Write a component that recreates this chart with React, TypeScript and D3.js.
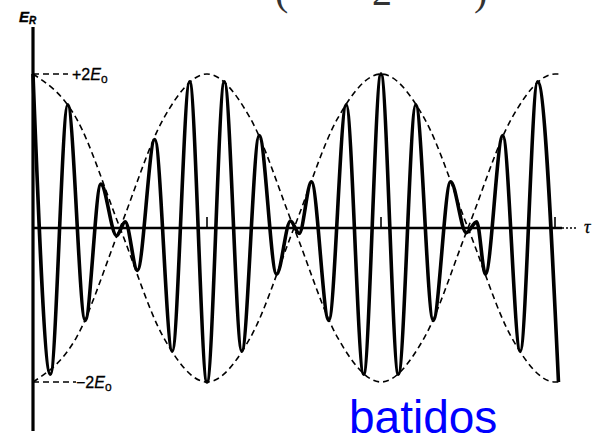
import React from 'react';
import * as d3 from 'd3';

// extremes of the resultant wave E_R (tau in beat half-periods, value in E0)
const waveTau = [
  0.0, 0.1, 0.2, 0.3, 0.39, 0.48, 0.53, 0.6, 0.7, 0.8, 0.9,
  1.0, 1.1, 1.2, 1.3, 1.4, 1.48, 1.53, 1.6, 1.7, 1.8, 1.9,
  2.0, 2.1, 2.2, 2.3, 2.4, 2.49, 2.55, 2.6, 2.7, 2.8, 2.9, 3.02,
];
const waveValue = [
  2.0, -1.9, 1.6, -1.2, 0.57, -0.1, 0.08, -0.55, 1.15, -1.6, 1.9,
  -2.0, 1.9, -1.6, 1.2, -0.6, 0.09, -0.07, 0.6, -1.2, 1.6, -1.9,
  2.0, -1.9, 1.6, -1.2, 0.6, -0.06, 0.08, -0.6, 1.2, -1.6, 1.9, -2.0,
];

// dashed envelope +2E0 cos(...), read at quarter steps
const envTau = [0, 0.25, 0.5, 0.75, 1, 1.25, 1.5, 1.75, 2, 2.25, 2.5, 2.75, 3, 3.02];
const envValue = [2, 1.42, 0, -1.42, -2, -1.42, 0, 1.42, 2, 1.42, 0, -1.42, -2, -2];

const tickTau = [1, 2, 3];

const W = 594, H = 437;

export default function App() {
  const x = d3.scaleLinear().domain([0, 1]).range([33, 207]);
  const y = d3.scaleLinear().domain([-2, 2]).range([382, 74]);

  const line = d3.line<[number, number]>()
    .x(d => x(d[0]))
    .y(d => y(d[1]))
    .curve(d3.curveMonotoneX);

  const wave = waveTau.map((t, i) => [t, waveValue[i]] as [number, number]);
  const envUp = envTau.map((t, i) => [t, envValue[i]] as [number, number]);
  const envDown = envTau.map((t, i) => [t, -envValue[i]] as [number, number]);

  const y0 = y(0);

  return (
    <div style={{ position: 'fixed', left: 0, top: 0 }}>
      <svg width={W} height={H} style={{ display: 'block', background: '#fff' }}>
        {/* formula cut off by the top edge, as in the source figure */}
        <g fontFamily="'Liberation Serif', serif" fontSize={40} fill="#333">
          <text x={275} y={5}>(</text>
          <text x={372} y={5}>2</text>
          <text x={474} y={5}>)</text>
        </g>

        {/* axes */}
        <line x1={33} x2={33} y1={27} y2={431} stroke="#000" strokeWidth={3.2} />
        <line x1={33} x2={562} y1={y0} y2={y0} stroke="#000" strokeWidth={2.4} />
        <line x1={562} x2={578} y1={y0} y2={y0} stroke="#000" strokeWidth={1.5} strokeDasharray="2,2" />
        {tickTau.map(t => (
          <line key={t} x1={x(t)} x2={x(t)} y1={y0} y2={y0 - 11} stroke="#000" strokeWidth={1.6} />
        ))}

        {/* +-2E0 guide lines */}
        <line x1={33} x2={68} y1={y(2)} y2={y(2)} stroke="#000" strokeWidth={1.5} strokeDasharray="6,4" />
        <line x1={33} x2={76} y1={y(-2)} y2={y(-2)} stroke="#000" strokeWidth={1.5} strokeDasharray="6,4" />

        {/* envelope */}
        <path d={line(envUp) ?? ''} fill="none" stroke="#000" strokeWidth={1.6} strokeDasharray="6,4" />
        <path d={line(envDown) ?? ''} fill="none" stroke="#000" strokeWidth={1.6} strokeDasharray="6,4" />

        {/* resultant wave */}
        <path d={line(wave) ?? ''} fill="none" stroke="#000" strokeWidth={3.6} strokeLinejoin="round" />

        {/* labels */}
        <g fontFamily="'Liberation Sans', Arial, sans-serif" fill="#000" stroke="#000" strokeWidth={0.3}>
          <text x={19} y={22} fontSize={15} fontWeight="bold" fontStyle="italic">
            E<tspan fontSize={10} dy={2}>R</tspan>
          </text>
          <text x={72} y={y(2) + 6} fontSize={16}>
            +2<tspan fontStyle="italic">E</tspan><tspan fontSize={12} dy={3}>o</tspan>
          </text>
          <text x={76} y={y(-2) + 6} fontSize={16}>
            −2<tspan fontStyle="italic">E</tspan><tspan fontSize={12} dy={3}>o</tspan>
          </text>
          <text x={584} y={y0 + 5} fontSize={18} fontStyle="italic" fontFamily="'Liberation Serif', serif">τ</text>
        </g>

        <text x={349} y={433} fontFamily="'Liberation Sans', Arial, sans-serif" fontSize={46} fill="#0000ff">
          batidos
        </text>
      </svg>
    </div>
  );
}
